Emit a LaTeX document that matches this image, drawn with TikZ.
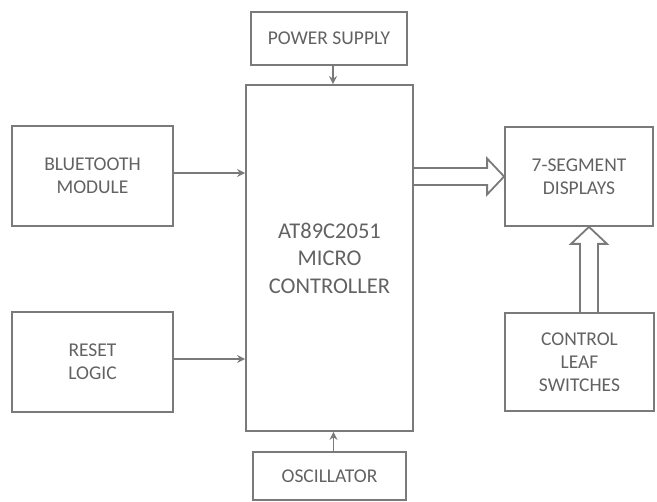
\documentclass[tikz,border=0pt]{standalone}
\usepackage{fontspec}
\setmainfont{Carlito}
\usepackage{tikz}
\usetikzlibrary{arrows.meta,positioning,calc}
\definecolor{linegray}{HTML}{7A7A7A}
\definecolor{textgray}{HTML}{626262}

\begin{document}
\begin{tikzpicture}[
    x=1pt,y=-1pt,
    blk/.style={draw=linegray,line width=1.8pt,minimum width=161pt,minimum height=100pt,align=center,
        inner sep=0pt,text=textgray,font=\fontsize{19.5}{23}\selectfont},
    mcu/.style={blk,minimum width=167pt,minimum height=346pt,font=\fontsize{22.5}{27.5}\selectfont},
    arr/.style={-{Stealth[length=8pt,width=8pt]},line width=1.8pt,draw=linegray},
    fat/.style={draw=linegray,line width=1.8pt,line join=miter}
]
    \useasboundingbox (0,0) rectangle (657,502);

    \node[mcu] (mc) at (329.5,258) {AT89C2051\\MICRO\\CONTROLLER};
    \node[blk,minimum width=156pt,minimum height=53pt] (power) at (329,38.5) {POWER SUPPLY};
    \node[blk,minimum width=153pt,minimum height=48pt] (osc) at (329.5,476) {OSCILLATOR};
    \node[blk] (bt) at (92.5,176) {BLUETOOTH\\MODULE};
    \node[blk] (reset) at (92.5,362) {RESET\\LOGIC};
    \node[blk,minimum width=148pt,minimum height=99pt] (seg) at (579,176.5) {7-SEGMENT\\DISPLAYS};
    \node[blk,minimum width=149pt,minimum height=98pt] (ctrl) at (579.5,362) {CONTROL\\LEAF\\SWITCHES};

    % thin arrows into the controller
    \draw[arr] ([xshift=4pt]power.south) -- ([xshift=4pt]power.south |- mc.north);
    \draw[arr] ([xshift=4pt]osc.north) -- ([xshift=4pt]osc.north |- mc.south);
    \draw[arr] ([yshift=3pt]bt.east) -- ([yshift=3pt]bt.east -| mc.west);
    \draw[arr] ([yshift=3pt]reset.east) -- ([yshift=3pt]reset.east -| mc.west);

    % block arrows
    \draw[fat] ($(mc.east |- seg.west)+(0,-8.5)$) -- ($(seg.west)+(-17,-8.5)$) -- ($(seg.west)+(-17,-18)$)
        -- (seg.west) -- ($(seg.west)+(-17,18)$) -- ($(seg.west)+(-17,8.5)$) -- ($(mc.east |- seg.west)+(0,8.5)$);
    \coordinate (up) at ([xshift=9.5pt]ctrl.north);
    \draw[fat] ($(up)+(-9,0)$) -- ($(up |- seg.south)+(-9,17)$) -- ($(up |- seg.south)+(-18,17)$)
        -- (up |- seg.south) -- ($(up |- seg.south)+(18,17)$) -- ($(up |- seg.south)+(9,17)$) -- ($(up)+(9,0)$);
\end{tikzpicture}
\end{document}
